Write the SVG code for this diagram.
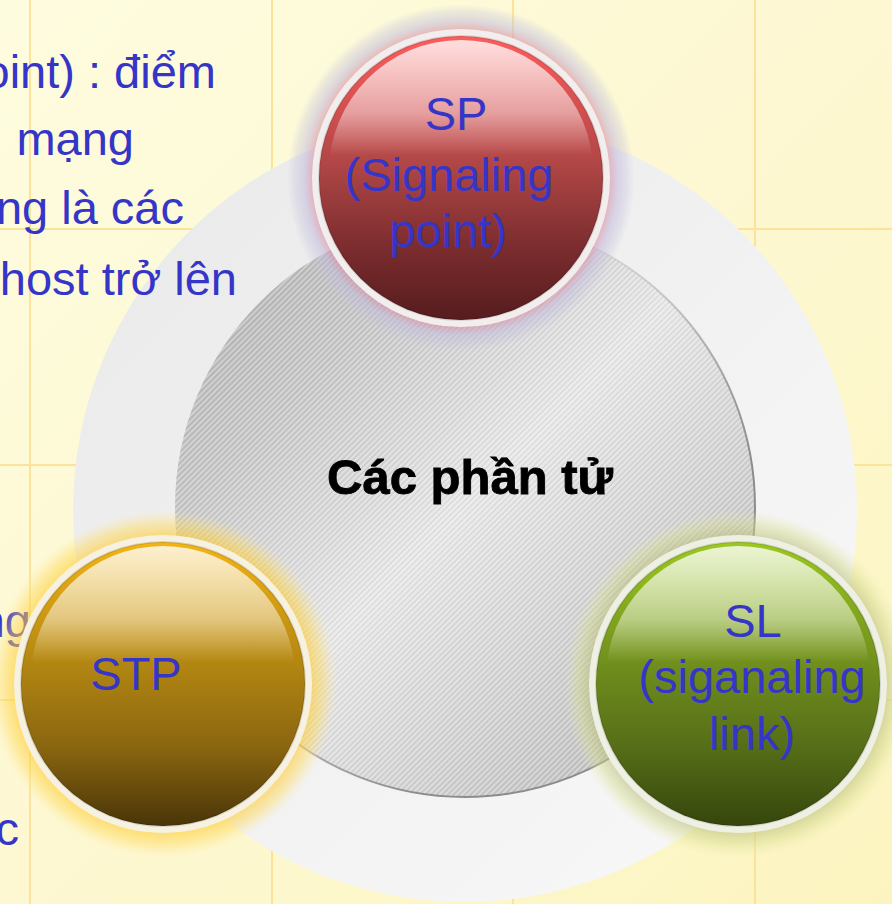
<svg xmlns="http://www.w3.org/2000/svg" width="892" height="904" viewBox="0 0 892 904">
  <defs>
    <style>
      .grid { stroke: #fbe39c; stroke-width: 2; }
      .body { font-family: "Liberation Sans", Arial, sans-serif; font-size: 47px; fill: #3535c8; }
      .label { font-family: "Liberation Sans", Arial, sans-serif; font-size: 47px; fill: #3535c8; text-anchor: middle; }
      .title { font-family: "Liberation Sans", Arial, sans-serif; font-size: 49px; font-weight: bold; fill: #000; stroke: #000; stroke-width: 0.9; text-anchor: middle; }
    </style>
    <linearGradient id="bg" x1="0" y1="0" x2="1" y2="1">
      <stop offset="0" stop-color="#fefcdf"/>
      <stop offset="0.5" stop-color="#fdf8d2"/>
      <stop offset="1" stop-color="#fcf4c0"/>
    </linearGradient>
    <linearGradient id="outerFill" x1="0" y1="0" x2="1" y2="1">
      <stop offset="0" stop-color="#e9e9e9"/>
      <stop offset="1" stop-color="#f9f9f9"/>
    </linearGradient>
    <linearGradient id="innerFill" x1="0" y1="0" x2="1" y2="1">
      <stop offset="0.1" stop-color="#b4b4b4"/>
      <stop offset="0.25" stop-color="#c4c4c4"/>
      <stop offset="0.5" stop-color="#e6e6e6"/>
      <stop offset="0.75" stop-color="#cacaca"/>
      <stop offset="0.9" stop-color="#bababa"/>
    </linearGradient>
    <linearGradient id="innerEdge" x1="0" y1="0" x2="1" y2="1">
      <stop offset="0.35" stop-color="#909090" stop-opacity="0"/>
      <stop offset="0.7" stop-color="#8c8c8c" stop-opacity="1"/>
    </linearGradient>
    <pattern id="hatch" width="4" height="4" patternUnits="userSpaceOnUse" patternTransform="rotate(45)">
      <rect width="1.4" height="4" fill="#ffffff" fill-opacity="0.4"/>
      <rect x="2" width="1" height="4" fill="#000000" fill-opacity="0.05"/>
    </pattern>

    <!-- glossy highlight shared by the three balls -->
    <linearGradient id="gloss" x1="0" y1="0" x2="0" y2="1">
      <stop offset="0" stop-color="#ffffff" stop-opacity="0.8"/>
      <stop offset="0.28" stop-color="#ffffff" stop-opacity="0.45"/>
      <stop offset="0.44" stop-color="#ffffff" stop-opacity="0"/>
    </linearGradient>

    <!-- SP (red) -->
    <radialGradient id="glowSP" r="0.5">
      <stop offset="0.85" stop-color="#dc8a9c" stop-opacity="0.6"/>
      <stop offset="0.9" stop-color="#c2b8dc" stop-opacity="0.55"/>
      <stop offset="0.96" stop-color="#c4c2dc" stop-opacity="0.3"/>
      <stop offset="1" stop-color="#c8c8e0" stop-opacity="0"/>
    </radialGradient>
    <linearGradient id="ballSP" x1="0" y1="0" x2="0" y2="1">
      <stop offset="0" stop-color="#ff5c5c"/>
      <stop offset="0.45" stop-color="#b04646"/>
      <stop offset="0.75" stop-color="#7a2c2e"/>
      <stop offset="1" stop-color="#561c1e"/>
    </linearGradient>

    <!-- STP (gold) -->
    <radialGradient id="glowSTP" r="0.5">
      <stop offset="0.85" stop-color="#ffcc30" stop-opacity="0.6"/>
      <stop offset="0.92" stop-color="#fdda60" stop-opacity="0.45"/>
      <stop offset="1" stop-color="#fde89a" stop-opacity="0"/>
    </radialGradient>
    <linearGradient id="ballSTP" x1="0" y1="0" x2="0" y2="1">
      <stop offset="0" stop-color="#f3b414"/>
      <stop offset="0.45" stop-color="#b08412"/>
      <stop offset="0.72" stop-color="#8a6610"/>
      <stop offset="1" stop-color="#4a3508"/>
    </linearGradient>

    <!-- SL (green) -->
    <radialGradient id="glowSL" r="0.5">
      <stop offset="0.85" stop-color="#bcc080" stop-opacity="0.6"/>
      <stop offset="0.92" stop-color="#d6dc90" stop-opacity="0.45"/>
      <stop offset="1" stop-color="#e6eab0" stop-opacity="0"/>
    </radialGradient>
    <linearGradient id="ballSL" x1="0" y1="0" x2="0" y2="1">
      <stop offset="0" stop-color="#9cc820"/>
      <stop offset="0.45" stop-color="#6e8c1c"/>
      <stop offset="0.72" stop-color="#566e18"/>
      <stop offset="1" stop-color="#36460c"/>
    </linearGradient>
  </defs>

  <!-- background with grid -->
  <rect width="892" height="904" fill="url(#bg)"/>
  <g id="grid">
    <line class="grid" x1="30" y1="0" x2="30" y2="904"/>
    <line class="grid" x1="272" y1="0" x2="272" y2="904"/>
    <line class="grid" x1="513" y1="0" x2="513" y2="904"/>
    <line class="grid" x1="755" y1="0" x2="755" y2="904"/>
    <line class="grid" x1="0" y1="229" x2="892" y2="229"/>
    <line class="grid" x1="0" y1="465" x2="892" y2="465"/>
    <line class="grid" x1="0" y1="700" x2="892" y2="700"/>
  </g>

  <!-- concentric discs -->
  <g id="outer-disc">
    <circle cx="465" cy="510" r="392" fill="url(#outerFill)"/>
  </g>
  <g id="center">
    <circle cx="465" cy="507" r="290" fill="url(#innerFill)"/>
    <circle cx="465" cy="507" r="290" fill="url(#hatch)"/>
    <circle cx="465" cy="507" r="290" fill="none" stroke="url(#innerEdge)" stroke-width="2"/>
    <text class="title" x="470" y="494">Các phần tử</text>
  </g>

  <!-- paragraph text running behind the discs -->
  <g id="paragraph" class="body" text-anchor="end">
    <text x="216" y="88">point) : điểm</text>
    <text x="134" y="155">mạng</text>
    <text x="184" y="224">ng là các</text>
    <text x="237" y="295">host trở lên</text>
    <text x="31" y="637">ng</text>
    <text x="19" y="845">c</text>
  </g>

  <g id="connectors"/>

  <!-- SP ball -->
  <g id="sp" transform="translate(461,178)">
    <circle r="174" fill="url(#glowSP)"/>
    <circle r="149" fill="#f3eeee"/>
    <circle r="142" fill="url(#ballSP)" stroke="#000" stroke-opacity="0.12" stroke-width="2"/>
    <circle cy="-6" r="132" fill="url(#gloss)"/>
    <text class="label" x="-5" y="-48">SP</text>
    <text class="label" x="-12" y="13">(Signaling</text>
    <text class="label" x="-13" y="69">point)</text>
  </g>

  <!-- STP ball -->
  <g id="stp" transform="translate(163,684)">
    <circle r="174" fill="url(#glowSTP)"/>
    <circle r="149" fill="#f6f1e1"/>
    <circle r="142" fill="url(#ballSTP)" stroke="#000" stroke-opacity="0.12" stroke-width="2"/>
    <circle cy="-6" r="132" fill="url(#gloss)"/>
    <text class="label" x="-27" y="6">STP</text>
  </g>

  <!-- SL ball -->
  <g id="sl" transform="translate(738,684)">
    <circle r="174" fill="url(#glowSL)"/>
    <circle r="149" fill="#eef0e4"/>
    <circle r="142" fill="url(#ballSL)" stroke="#000" stroke-opacity="0.12" stroke-width="2"/>
    <circle cy="-6" r="132" fill="url(#gloss)"/>
    <text class="label" x="15" y="-47">SL</text>
    <text class="label" x="14" y="9">(siganaling</text>
    <text class="label" x="14" y="66">link)</text>
  </g>
</svg>
